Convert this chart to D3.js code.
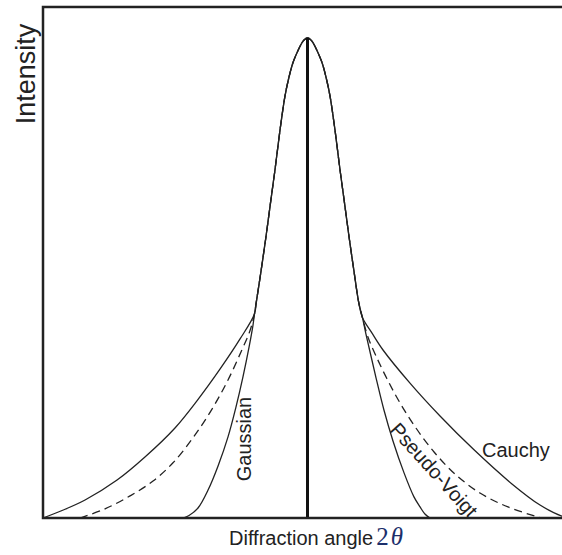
<!DOCTYPE html>
<html>
<head>
<meta charset="utf-8">
<script src="https://cdn.jsdelivr.net/npm/d3@7"></script>
<style>
  body { margin: 0; background: #fff; }
  text { font-family: "Liberation Sans", Arial, sans-serif; fill: #222; }
</style>
</head>
<body>
<svg id="chart" width="562" height="555"></svg>
<script>

// shared top of the peak (all three profiles coincide here), [2theta offset, intensity]
const peakCore = [
  [-0.401, 0.425], [-0.388, 0.448], [-0.350, 0.517], [-0.314, 0.586], [-0.280, 0.656],
  [-0.246, 0.725], [-0.208, 0.808], [-0.171, 0.878], [-0.145, 0.9125], [-0.112, 0.947],
  [-0.070, 0.975], [-0.044, 0.989], [-0.026, 0.996], [0, 1.0], [0.026, 0.996],
  [0.044, 0.989], [0.070, 0.975], [0.112, 0.947], [0.145, 0.9125], [0.171, 0.878],
  [0.208, 0.808], [0.246, 0.725], [0.280, 0.656], [0.314, 0.586], [0.350, 0.517],
  [0.388, 0.448], [0.416, 0.417]
];

// tails below the split point
const cauchyLeft = [
  [-2.0, 0], [-1.856, 0.0156], [-1.682, 0.0375], [-1.440, 0.079], [-1.229, 0.127],
  [-1.002, 0.1875], [-0.836, 0.244], [-0.662, 0.310], [-0.510, 0.373]
];
const cauchyRight = [
  [0.488, 0.385], [0.571, 0.350], [0.775, 0.281], [1.002, 0.2125], [1.259, 0.142],
  [1.546, 0.071], [1.758, 0.027], [1.924, 0.004], [2.0, 0]
];
const voigtLeft = [
  [-1.720, 0], [-1.531, 0.019], [-1.342, 0.046], [-1.168, 0.077], [-1.017, 0.115],
  [-0.866, 0.167], [-0.722, 0.227], [-0.601, 0.2875], [-0.503, 0.346], [-0.435, 0.390]
];
const voigtRight = [
  [0.457, 0.377], [0.518, 0.3375], [0.601, 0.290], [0.699, 0.240], [0.820, 0.1875],
  [0.957, 0.1375], [1.115, 0.0917], [1.304, 0.052], [1.516, 0.023], [1.766, 0]
];
const gaussLeft = [
  [-0.941, 0], [-0.896, 0.0052], [-0.828, 0.0208], [-0.752, 0.0583], [-0.677, 0.108],
  [-0.601, 0.169], [-0.541, 0.231], [-0.488, 0.294], [-0.442, 0.356], [-0.412, 0.402]
];
const gaussRight = [
  [0.442, 0.383], [0.480, 0.3375], [0.526, 0.283], [0.578, 0.225], [0.647, 0.160],
  [0.730, 0.094], [0.805, 0.044], [0.851, 0.023], [0.888, 0.0083], [0.926, 0]
];

const profiles = [
  { name: "Cauchy", pts: cauchyLeft.concat(peakCore, cauchyRight), dash: null },
  { name: "Pseudo-Voigt", pts: voigtLeft.concat(peakCore, voigtRight), dash: "8,5" },
  { name: "Gaussian", pts: gaussLeft.concat(peakCore, gaussRight), dash: null }
];

const yTop = 1.0646;

const svg = d3.select("#chart");
const x = d3.scaleLinear().domain([-2, 2]).range([43, 572]);
const y = d3.scaleLinear().domain([0, 1]).range([518, 38]);

const line = d3.line()
  .x(d => x(d[0]))
  .y(d => y(d[1]))
  .curve(d3.curveCatmullRom.alpha(0.5));

svg.selectAll(".profile").data(profiles)
  .enter()
  .append("path")
  .attr("class", "profile")
  .attr("d", d => line(d.pts))
  .attr("fill", "none")
  .attr("stroke", "#222")
  .attr("stroke-width", 1.3)
  .attr("stroke-dasharray", d => d.dash);

// peak position marker
svg.append("line")
  .attr("x1", x(0)).attr("x2", x(0))
  .attr("y1", y(1)).attr("y2", y(0))
  .attr("stroke", "#111")
  .attr("stroke-width", 3);

// frame
svg.append("rect")
  .attr("x", x(-2)).attr("y", y(yTop))
  .attr("width", x(2) - x(-2))
  .attr("height", y(0) - y(yTop))
  .attr("fill", "none")
  .attr("stroke", "#222")
  .attr("stroke-width", 2.5);

// labels
svg.append("text")
  .attr("transform", "translate(35,74) rotate(-90)")
  .attr("text-anchor", "middle")
  .style("font-size", "27px")
  .text("Intensity");

const xl = svg.append("text")
  .attr("x", 229).attr("y", 545)
  .style("font-size", "20px");
xl.append("tspan").text("Diffraction angle");
xl.append("tspan")
  .attr("dx", 3)
  .style("font-family", "'Liberation Serif', 'Times New Roman', serif")
  .style("font-size", "25px")
  .style("fill", "#1c2f6b")
  .text("2");
xl.append("tspan")
  .attr("dx", 2)
  .style("font-family", "'Liberation Serif', 'Times New Roman', serif")
  .style("font-style", "italic")
  .style("font-size", "25px")
  .style("fill", "#1c2f6b")
  .text("θ");

svg.append("text")
  .attr("transform", "translate(250.5,439) rotate(-90)")
  .attr("text-anchor", "middle")
  .style("font-size", "20px")
  .text("Gaussian");

svg.append("text")
  .attr("x", 482).attr("y", 457)
  .style("font-size", "20px")
  .text("Cauchy");

svg.append("text")
  .attr("transform", "translate(434,470) rotate(48)")
  .attr("text-anchor", "middle")
  .attr("dy", "0.35em")
  .style("font-size", "20px")
  .text("Pseudo-Voigt");

</script>
</body>
</html>
